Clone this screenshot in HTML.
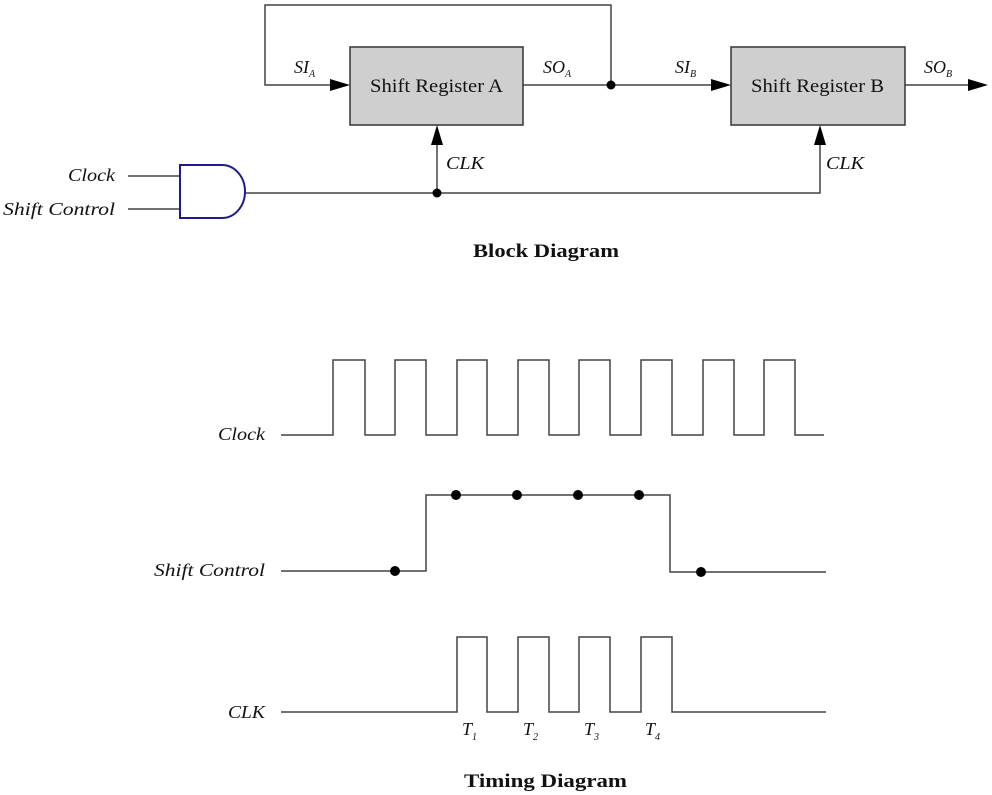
<!DOCTYPE html>
<html><head><style>body{margin:0;background:#fff}svg{display:block}</style></head><body>
<svg width="992" height="795" viewBox="0 0 992 795" xmlns="http://www.w3.org/2000/svg" font-family="Liberation Serif, serif">
<g stroke="#444" stroke-width="1.5" fill="none">
<path d="M611,85 V5 H265 V85 H335"/>
<path d="M523,85 H716"/>
<path d="M905,85 H972"/>
<path d="M128,176 H180 M128,209 H180"/>
<path d="M245,193 H820 V140"/>
<path d="M437,193 V140"/>
<path d="M281,435 H333 V360 H365 V435 H395 V360 H426 V435 H457 V360 H487 V435 H518 V360 H549 V435 H579 V360 H610 V435 H641 V360 H672 V435 H703 V360 H734 V435 H764 V360 H795 V435 H824"/>
<path d="M281,571 H426 V495 H670 V572 H826"/>
<path d="M281,712 H457 V637 H487 V712 H518 V637 H549 V712 H579 V637 H610 V712 H641 V637 H672 V712 H826"/>
</g>
<rect x="350" y="47" width="173" height="78" fill="#cfcfcf" stroke="#333" stroke-width="1.5"/>
<rect x="731" y="47" width="174" height="78" fill="#cfcfcf" stroke="#333" stroke-width="1.5"/>
<path d="M180,165 H222 A23,26.5 0 0 1 222,218 H180 Z" fill="#fff" stroke="#1a1a9a" stroke-width="2"/>
<g fill="#000">
<polygon points="330,79 350,85 330,91"/>
<polygon points="711,79 731,85 711,91"/>
<polygon points="968,79 988,85 968,91"/>
<polygon points="431,145 437,125 443,145"/>
<polygon points="814,145 820,125 826,145"/>
<circle cx="611" cy="85" r="4.5"/><circle cx="437" cy="193" r="4.5"/>
<circle cx="395" cy="571" r="5"/><circle cx="456" cy="495" r="5"/><circle cx="517" cy="495" r="5"/><circle cx="578" cy="495" r="5"/><circle cx="639" cy="495" r="5"/><circle cx="701" cy="572" r="5"/>
</g>
<g font-size="19" fill="#111">
<text x="370" y="92" textLength="133" lengthAdjust="spacingAndGlyphs">Shift Register A</text>
<text x="751" y="92" textLength="133" lengthAdjust="spacingAndGlyphs">Shift Register B</text>
</g>
<g font-size="18" font-style="italic" fill="#111">
<text x="294" y="73">SI<tspan font-size="10" dy="4">A</tspan></text>
<text x="543" y="73">SO<tspan font-size="10" dy="4">A</tspan></text>
<text x="675" y="73">SI<tspan font-size="10" dy="4">B</tspan></text>
<text x="924" y="73">SO<tspan font-size="10" dy="4">B</tspan></text>
<text x="446" y="169" textLength="38" lengthAdjust="spacingAndGlyphs">CLK</text>
<text x="826" y="169" textLength="38" lengthAdjust="spacingAndGlyphs">CLK</text>
<text x="68" y="181" textLength="47" lengthAdjust="spacingAndGlyphs">Clock</text>
<text x="3" y="215" textLength="112" lengthAdjust="spacingAndGlyphs">Shift Control</text>
<text x="218" y="440" textLength="47" lengthAdjust="spacingAndGlyphs">Clock</text>
<text x="154" y="576" textLength="111" lengthAdjust="spacingAndGlyphs">Shift Control</text>
<text x="228" y="718" textLength="37" lengthAdjust="spacingAndGlyphs">CLK</text>
<text x="462" y="735">T<tspan font-size="10" dy="5">1</tspan></text>
<text x="523" y="735">T<tspan font-size="10" dy="5">2</tspan></text>
<text x="584" y="735">T<tspan font-size="10" dy="5">3</tspan></text>
<text x="645" y="735">T<tspan font-size="10" dy="5">4</tspan></text>
</g>
<g font-size="19" font-weight="bold" fill="#111">
<text x="473" y="257" textLength="146" lengthAdjust="spacingAndGlyphs">Block Diagram</text>
<text x="464" y="787" textLength="163" lengthAdjust="spacingAndGlyphs">Timing Diagram</text>
</g>
</svg>
</body></html>
